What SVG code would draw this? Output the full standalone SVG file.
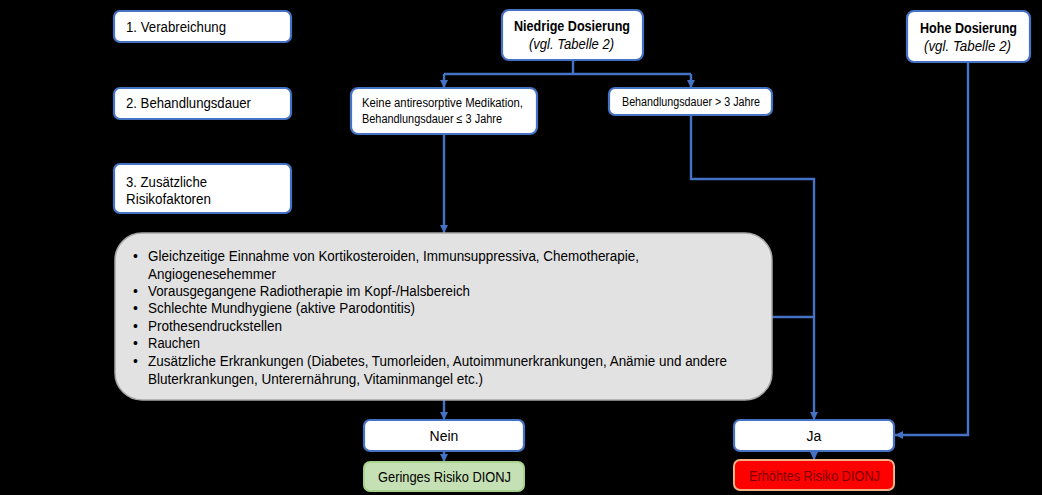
<svg xmlns="http://www.w3.org/2000/svg" width="1042" height="495" viewBox="0 0 1042 495">
<defs>
<marker id="arr" markerWidth="10" markerHeight="10" refX="8" refY="4.5" orient="auto" markerUnits="userSpaceOnUse">
<path d="M0,0.5 L8,4.5 L0,8.5 Z" fill="#4472C4"/>
</marker>
<style>
.box{fill:#FFFFFF;stroke:#4472C4;stroke-width:2.2}
.t{font-family:"Liberation Sans",Arial,sans-serif;font-size:14px;fill:#000}
.s{font-size:12.5px}
.b{font-weight:bold}
.i{font-style:italic}
.c{text-anchor:middle}
.con{fill:none;stroke:#4472C4;stroke-width:2.4}
.arr{marker-end:url(#arr)}
</style>
</defs>
<rect x="0" y="0" width="1042" height="495" fill="#000"/>

<g id="connectors">
<path class="con" d="M573,60 V74 M444,74 H691"/>
<path class="con arr" d="M444,74 V88"/>
<path class="con arr" d="M691,74 V88"/>
<path class="con arr" d="M444,134 V233"/>
<path class="con arr" d="M691,115 V179 H814 V420"/>
<path class="con" d="M772,317 H814"/>
<path class="con arr" d="M968,62 V435 H895"/>
<path class="con arr" d="M444,400 V420"/>
<path class="con arr" d="M444,451 V462"/>
<path class="con arr" d="M814,451 V460"/>
</g>

<g id="step1">
<rect class="box" x="114" y="11" width="177" height="31" rx="6"/>
<text class="t" x="126" y="32" textLength="100" lengthAdjust="spacingAndGlyphs">1. Verabreichung</text>
</g>
<g id="step2">
<rect class="box" x="114" y="88" width="177" height="31" rx="6"/>
<text class="t" x="126" y="108" textLength="125" lengthAdjust="spacingAndGlyphs">2. Behandlungsdauer</text>
</g>
<g id="step3">
<rect class="box" x="114" y="164" width="177" height="49" rx="6"/>
<text class="t" x="126" y="187" textLength="81" lengthAdjust="spacingAndGlyphs">3. Zusätzliche</text>
<text class="t" x="126" y="204" textLength="85" lengthAdjust="spacingAndGlyphs">Risikofaktoren</text>
</g>

<g id="niedrig">
<rect class="box" x="502" y="10" width="141" height="50" rx="7"/>
<text class="t b" x="514" y="31" textLength="116" lengthAdjust="spacingAndGlyphs">Niedrige Dosierung</text>
<text class="t i" x="529" y="49" textLength="85" lengthAdjust="spacingAndGlyphs">(vgl. Tabelle 2)</text>
</g>
<g id="hoch">
<rect class="box" x="907" y="11" width="123" height="51" rx="7"/>
<text class="t b" x="920" y="33" textLength="97" lengthAdjust="spacingAndGlyphs">Hohe Dosierung</text>
<text class="t i" x="924" y="51" textLength="87" lengthAdjust="spacingAndGlyphs">(vgl. Tabelle 2)</text>
</g>

<g id="keine">
<rect class="box" x="351" y="88" width="186" height="46" rx="7"/>
<text class="t s" x="362" y="107" textLength="161" lengthAdjust="spacingAndGlyphs">Keine antiresorptive Medikation,</text>
<text class="t s" x="362" y="123" textLength="140" lengthAdjust="spacingAndGlyphs">Behandlungsdauer ≤ 3 Jahre</text>
</g>
<g id="ueber3">
<rect class="box" x="609" y="88" width="163" height="27" rx="6"/>
<text class="t s" x="622" y="106" textLength="138" lengthAdjust="spacingAndGlyphs">Behandlungsdauer &gt; 3 Jahre</text>
</g>

<g id="risiko">
<rect x="115" y="233" width="657" height="167" rx="27" fill="#E2E2E2" stroke="#A6A6A6" stroke-width="1.5"/>
<g class="t">
<text x="133" y="261">•</text>
<text x="148" y="261" textLength="491" lengthAdjust="spacingAndGlyphs">Gleichzeitige Einnahme von Kortikosteroiden, Immunsuppressiva, Chemotherapie,</text>
<text x="148" y="278.5" textLength="128" lengthAdjust="spacingAndGlyphs">Angiogenesehemmer</text>
<text x="133" y="296">•</text>
<text x="148" y="296" textLength="322" lengthAdjust="spacingAndGlyphs">Vorausgegangene Radiotherapie im Kopf-/Halsbereich</text>
<text x="133" y="313">•</text>
<text x="148" y="313" textLength="267" lengthAdjust="spacingAndGlyphs">Schlechte Mundhygiene (aktive Parodontitis)</text>
<text x="133" y="331">•</text>
<text x="148" y="331" textLength="134" lengthAdjust="spacingAndGlyphs">Prothesendruckstellen</text>
<text x="133" y="348">•</text>
<text x="148" y="348" textLength="52" lengthAdjust="spacingAndGlyphs">Rauchen</text>
<text x="133" y="366">•</text>
<text x="148" y="366" textLength="579" lengthAdjust="spacingAndGlyphs">Zusätzliche Erkrankungen (Diabetes, Tumorleiden, Autoimmunerkrankungen, Anämie und andere</text>
<text x="148" y="384" textLength="335" lengthAdjust="spacingAndGlyphs">Bluterkrankungen, Unterernährung, Vitaminmangel etc.)</text>
</g>
</g>

<g id="nein">
<rect class="box" x="364" y="420" width="160" height="31" rx="6"/>
<text class="t c" x="444" y="441">Nein</text>
</g>
<g id="gering">
<rect x="364" y="462" width="160" height="29" rx="6" fill="#C5E0B4" stroke="#A9D18E" stroke-width="2"/>
<text class="t" x="378" y="481.5" textLength="133" lengthAdjust="spacingAndGlyphs">Geringes Risiko DIONJ</text>
</g>
<g id="ja">
<rect class="box" x="734" y="420" width="160" height="31" rx="6"/>
<text class="t c" x="814" y="441">Ja</text>
</g>
<g id="erhoeht">
<rect x="734" y="460" width="160" height="30" rx="6" fill="#FF0000" stroke="#F4B183" stroke-width="2"/>
<text class="t" x="749" y="480.5" textLength="131" lengthAdjust="spacingAndGlyphs" style="fill:#7A0000">Erhöhtes Risiko DIONJ</text>
</g>
</svg>
